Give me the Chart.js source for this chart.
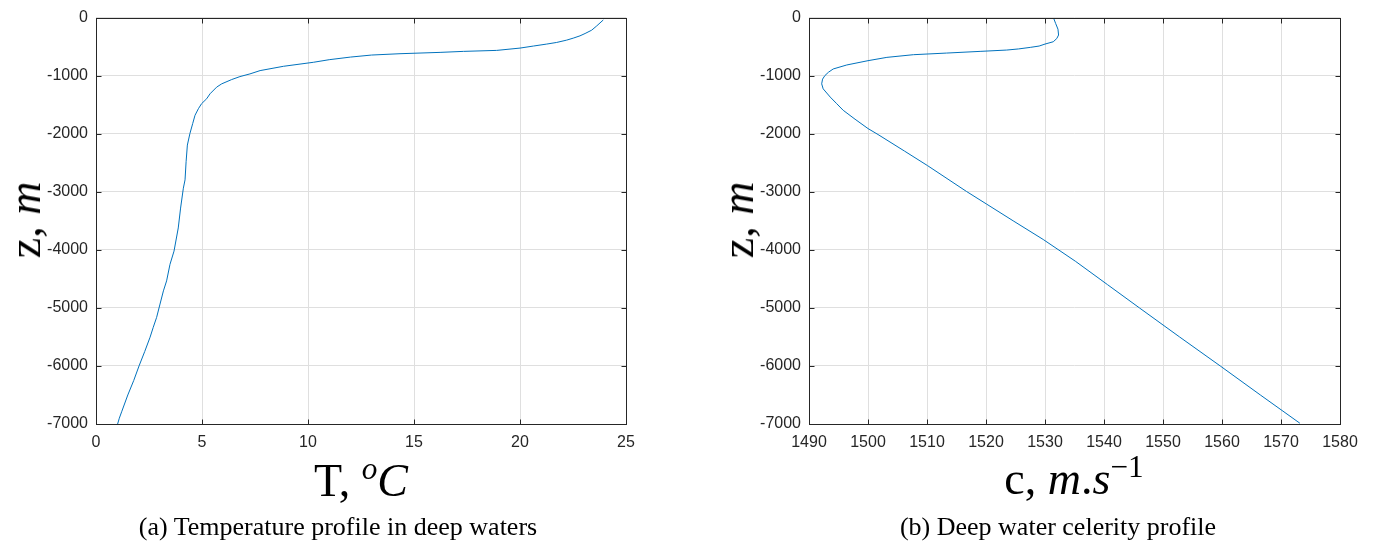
<!DOCTYPE html>
<html>
<head>
<meta charset="utf-8">
<script src="https://cdn.jsdelivr.net/npm/chart.js@4/dist/chart.umd.min.js"></script>
<style>
  body { margin: 0; background: #fff; width: 1377px; height: 545px; position: relative; overflow: hidden; }
  canvas { position: absolute; top: 0; }
  .lbl { position: absolute; font-family: "Liberation Serif", "DejaVu Serif", serif; color: #000; white-space: nowrap; transform: translate(-50%, -50%); line-height: 1; }
  .axt { font-size: 46px; }
  .cap { font-size: 26px; }
  .rot { transform: translate(-50%, -50%) rotate(-90deg); }
  .it { font-style: italic; }
  sup { font-size: 0.68em; vertical-align: 0.55em; line-height: 0; }
</style>
</head>
<body>
<canvas id="tempChart" width="700" height="545" style="left:0"></canvas>
<canvas id="celerityChart" width="677" height="545" style="left:700px"></canvas>

<div class="lbl axt rot" style="left:25px; top:220px">z, <span class="it">m</span></div>
<div class="lbl axt" style="left:361px; top:481px">T, <sup class="it">o</sup><span class="it">C</span></div>
<div class="lbl cap" style="left:338px; top:527px">(a) Temperature profile in deep waters</div>

<div class="lbl axt rot" style="left:738px; top:220px">z, <span class="it">m</span></div>
<div class="lbl axt" style="left:1074px; top:479px">c, <span class="it">m</span>.<span class="it">s</span><sup>&minus;1</sup></div>
<div class="lbl cap" style="left:1058px; top:527px">(b) Deep water celerity profile</div>

<script>
// Temperature profile (depth in m, temperature in degC)
const tempDepth = [-40, -143, -217, -274, -314, -354, -388, -428, -456, -490, -525, -565, -582, -599, -622,
  -645, -680, -725, -770, -839, -913, -970, -1016, -1067, -1141, -1198, -1312, -1398, -1483, -1569, -1683,
  -1826, -1997, -2196, -2482, -2795, -2938, -3281, -3623, -4022, -4250, -4535, -4707, -4934, -5163,
  -5335, -5506, -5750, -6000, -6250, -6500, -6790, -6900, -7000];
const tempValues = [23.93, 23.62, 23.38, 23.07, 22.83, 22.51, 22.20, 21.73, 21.26, 20.63, 20.0, 18.9, 17.33, 16.23, 14.34,
  13.0, 12.0, 11.0, 10.25, 8.84, 7.74, 7.26, 6.79, 6.40, 5.93, 5.69, 5.38, 5.22, 4.98, 4.83, 4.67,
  4.56, 4.43, 4.31, 4.25, 4.20, 4.12, 3.99, 3.88, 3.68, 3.49, 3.33, 3.18, 3.02, 2.86,
  2.70, 2.55, 2.30, 2.03, 1.78, 1.50, 1.21, 1.10, 1.02];

// Sound speed profile (depth in m, celerity in m/s)
const celerityDepth = [-20, -100, -200, -300, -360, -416, -456, -490, -513, -540, -559, -582, -611, -639,
  -685, -742, -816, -885, -941, -998, -1060, -1141, -1227, -1369, -1483, -1597, -1750, -1911, -2014,
  -2300, -2550, -2995, -3212, -3500, -3822, -4200, -4600, -5000, -5500, -6000, -6500, -6987];
const celerityValues = [1531.5, 1531.8, 1532.2, 1532.3, 1532.0, 1531.4, 1530.0, 1529.0, 1527.5, 1525.5, 1523.5, 1519.0, 1513.3, 1507.7,
  1503.2, 1500.0, 1496.4, 1494.1, 1493.3, 1492.7, 1492.3, 1492.15, 1492.4, 1493.6, 1494.7, 1495.8, 1497.8, 1500.0, 1501.7,
  1506.2, 1510.1, 1516.7, 1520.1, 1524.6, 1529.7, 1535.2, 1540.6, 1546.0, 1552.8, 1559.7, 1566.5, 1573.2];

const tempTicks = [0, 5, 10, 15, 20, 25];
const celerityTicks = [1490, 1500, 1510, 1520, 1530, 1540, 1550, 1560, 1570, 1580];
const depthTicks = [0, -1000, -2000, -3000, -4000, -5000, -6000, -7000];

const AXIS = '#262626';
const GRID = '#dfdfdf';
const LINE = '#0072BD';

// box around the axes with short inward ticks on all four sides
const boxTicks = {
  id: 'boxTicks',
  afterDraw(chart) {
    const ctx = chart.ctx;
    const a = chart.chartArea;
    const xs = chart.scales.x, ys = chart.scales.y;
    const L = Math.round(a.left) + 0.5, R = Math.round(a.right) + 0.5;
    const T = Math.round(a.top) + 0.5, B = Math.round(a.bottom) + 0.5;
    ctx.save();
    ctx.strokeStyle = AXIS;
    ctx.lineWidth = 1;
    ctx.beginPath();
    xs.ticks.forEach(t => {
      const px = Math.round(xs.getPixelForValue(t.value)) + 0.5;
      ctx.moveTo(px, B); ctx.lineTo(px, B - 5);
      ctx.moveTo(px, T); ctx.lineTo(px, T + 5);
    });
    ys.ticks.forEach(t => {
      const py = Math.round(ys.getPixelForValue(t.value)) + 0.5;
      ctx.moveTo(L, py); ctx.lineTo(L + 5, py);
      ctx.moveTo(R, py); ctx.lineTo(R - 5, py);
    });
    ctx.stroke();
    ctx.strokeRect(L, T, R - L, B - T);
    ctx.restore();
  }
};

function makeProfile(canvasId, xs, ys, xTicks, xMin, xMax, yAxisWidth, padRight) {
  const points = xs.map((v, i) => ({ x: v, y: ys[i] }));
  return new Chart(document.getElementById(canvasId), {
    type: 'scatter',
    data: {
      datasets: [{
        data: points,
        showLine: true,
        borderColor: LINE,
        borderWidth: 1,
        pointRadius: 0,
        tension: 0
      }]
    },
    options: {
      responsive: false,
      animation: false,
      layout: { padding: { left: 0, top: 15, right: padRight, bottom: 61 } },
      plugins: { legend: { display: false }, tooltip: { enabled: false } },
      scales: {
        x: {
          type: 'linear',
          min: xMin,
          max: xMax,
          afterBuildTicks: s => { s.ticks = xTicks.map(v => ({ value: v })); },
          afterFit: s => { s.height = 60; },
          grid: { color: GRID, drawTicks: false },
          border: { display: false },
          ticks: {
            padding: 9,
            color: AXIS,
            font: { family: 'Liberation Sans', size: 16 },
            maxRotation: 0,
            callback: v => String(v)
          }
        },
        y: {
          type: 'linear',
          min: -7000,
          max: 0,
          afterBuildTicks: s => { s.ticks = depthTicks.map(v => ({ value: v })); },
          afterFit: s => { s.width = yAxisWidth; },
          grid: { color: GRID, drawTicks: false },
          border: { display: false },
          ticks: {
            padding: 8,
            color: AXIS,
            font: { family: 'Liberation Sans', size: 16 },
            callback: v => String(v)
          }
        }
      }
    },
    plugins: [boxTicks]
  });
}

makeProfile('tempChart', tempValues, tempDepth, tempTicks, 0, 25, 96, 74);
makeProfile('celerityChart', celerityValues, celerityDepth, celerityTicks, 1490, 1580, 109, 37);
</script>
</body>
</html>
